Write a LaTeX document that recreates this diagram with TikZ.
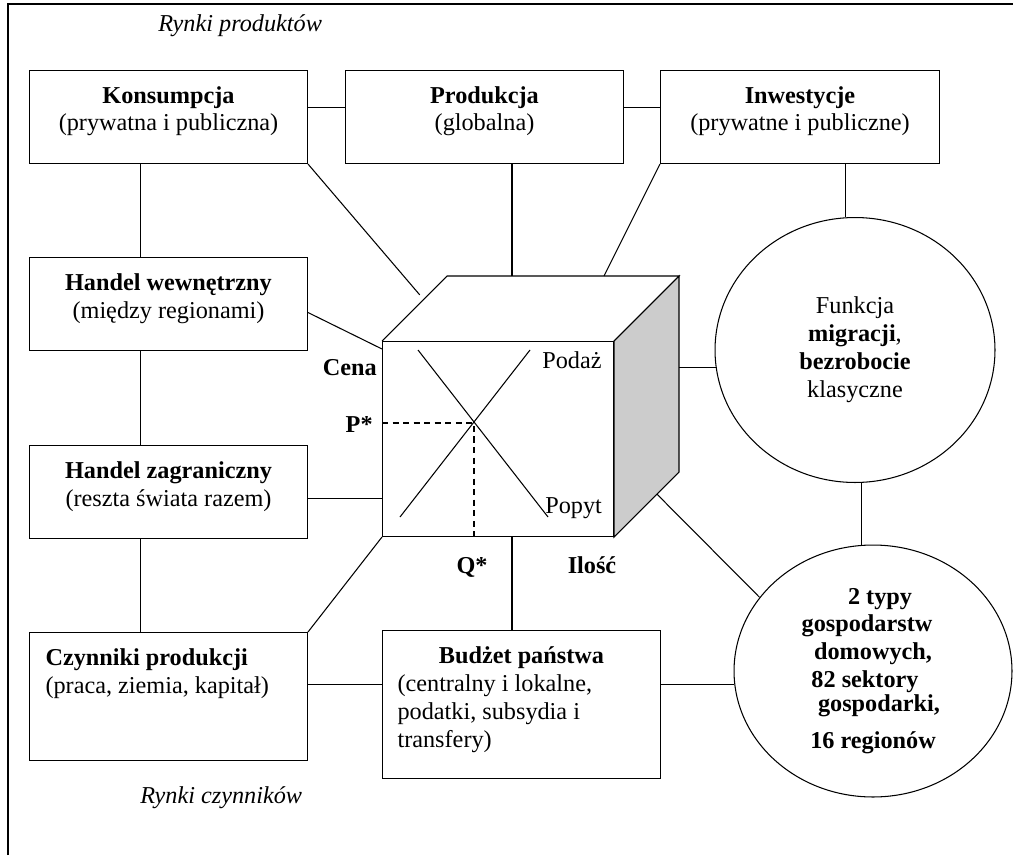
\documentclass[tikz,border=0pt]{standalone}
\usepackage{fontspec}
\setmainfont{Liberation Serif}
\usetikzlibrary{shapes.geometric,calc}

\newcommand{\rozm}{\fontsize{13.8}{15.9}\selectfont}
\newcommand{\tresc}[3]{\begin{minipage}[t][#2][t]{#1}#3\end{minipage}}

\tikzset{
  every node/.style={font=\rozm, inner sep=0pt},
  blok/.style={draw, line width=0.6pt, inner sep=0pt, anchor=north west},
  kolo/.style={draw, ellipse, line width=0.6pt, inner sep=0pt, align=center},
  linia/.style={line width=0.6pt},
  przer/.style={line width=0.9pt, dash pattern=on 3.5pt off 2.5pt},
  opis/.style={font=\rozm\bfseries},
}

\begin{document}
\begin{tikzpicture}[x=0.02cm,y=-0.02cm]
\useasboundingbox (0,0) rectangle (1013,855);
\draw[line width=1.1pt] (8,855) -- (8,4) -- (1013,4);

\node[anchor=base west,font=\rozm\itshape] (rprod) at (158,32) {Rynki produktów};
\node[anchor=base west,font=\rozm\itshape] (rczyn) at (140,803) {Rynki czynników};

% rynki produktow
\node[blok] (kons) at (29,70) {\tresc{5.56cm}{1.86cm}{\centering\rule{0pt}{0.65cm}\textbf{Konsumpcja}\\(prywatna i publiczna)}};
\node[blok] (prod) at (345,70) {\tresc{5.56cm}{1.86cm}{\centering\rule{0pt}{0.65cm}\textbf{Produkcja}\\(globalna)}};
\node[blok] (inw) at (660,70) {\tresc{5.58cm}{1.86cm}{\centering\rule{0pt}{0.65cm}\textbf{Inwestycje}\\(prywatne i publiczne)}};
\node[blok] (hw) at (29,257) {\tresc{5.56cm}{1.86cm}{\centering\rule{0pt}{0.66cm}\textbf{Handel wewnętrzny}\\(między regionami)}};
\node[blok] (hz) at (29,445) {\tresc{5.56cm}{1.86cm}{\centering\rule{0pt}{0.66cm}\textbf{Handel zagraniczny}\\(reszta świata razem)}};

% rynki czynnikow
\node[blok] (czyn) at (29,632) {\tresc{5.56cm}{2.56cm}{\raggedright\leftskip=0.32cm\rule{0pt}{0.66cm}\textbf{Czynniki produkcji}\\(praca, ziemia, kapitał)}};
\node[blok] (bud) at (382,630) {\tresc{5.56cm}{2.96cm}{{\centering\rule{0pt}{0.66cm}\textbf{Budżet państwa}\par}\raggedright\leftskip=0.3cm (centralny i lokalne,\\podatki, subsydia i\\transfery)}};

\node[kolo, minimum width=5.6cm, minimum height=5.3cm] (migr) at (855,350) {Funkcja\\\textbf{migracji},\\\textbf{bezrobocie}\\klasyczne};
\node[kolo, minimum width=5.56cm, minimum height=5.04cm, font=\rozm\bfseries] (hh) at (873,671)
  {\hspace*{0.28cm}2 typy\\\hspace*{-0.24cm}gospodarstw\\domowych,\\\hspace*{-0.32cm}82 sektory\\[-0.08cm]\hspace*{0.24cm}gospodarki,\\[0.18cm]16 regionów};

% szescian z rynkiem
\node[blok, minimum width=4.62cm, minimum height=3.9cm] (rynek) at (382,341) {};
\coordinate (btl) at ([shift={(65,-65)}]rynek.north west);
\coordinate (btr) at ([shift={(65,-65)}]rynek.north east);
\coordinate (bbr) at ([shift={(65,-65)}]rynek.south east);
\draw[linia] (rynek.north west) -- (btl) -- (btr) -- (rynek.north east);
\draw[linia, fill=black!20] (rynek.north east) -- (btr) -- (bbr) -- (rynek.south east) -- cycle;

\coordinate (eq) at (474,423);
\draw[linia] (400,517) -- (530,350);
\draw[linia] (418,350) -- (548,517);
\draw[przer] (eq -| rynek.west) -- (eq) -- (eq |- rynek.south);
\node[anchor=base west] (podaz) at (542,368) {Podaż};
\node[anchor=base west] (popyt) at (545,513) {Popyt};
\node[opis, anchor=base east] (cena) at (377,375) {Cena};
\node[opis, anchor=base east] (pst) at (373,432) {P*};
\node[opis, anchor=base] (qst) at (472,573) {Q*};
\node[opis, anchor=base] (ilosc) at (592,573) {Ilość};

% polaczenia
\draw[linia] ([yshift=0.19cm]kons.east) -- ([yshift=0.19cm]prod.west);
\draw[linia] ([yshift=0.19cm]prod.east) -- ([yshift=0.19cm]inw.west);
\foreach \a/\b in {kons/hw, hw/hz, hz/czyn}
  \draw[linia] ([xshift=-0.56cm]\a.south) -- ([xshift=-0.56cm]\b.north);
\draw[linia, shorten >=0.12cm] (kons.south east) -- ($(rynek.north west)!0.64!(btl)$);
\draw[linia] ([yshift=-0.17cm]hw.east) -- ([yshift=-0.16cm]rynek.north west);
\coordinate (hzk) at ([yshift=-0.13cm]hz.east);
\draw[linia] (hzk) -- (hzk -| rynek.west);
\draw[linia] (czyn.north east) -- (rynek.south west);
\coordinate (tgora) at (512,276);
\coordinate (tdol) at (512,536);
\coordinate (inwk) at (604,276);
\draw[linia] (tgora) -- (tgora |- prod.south);
\draw[linia] (inw.south west) -- (inwk);
\draw[linia] (migr.94) -- (migr.94 |- inw.south);
\draw[linia] (migr.187) -- (migr.187 -| btr);
\draw[linia] (migr.-87) -- (migr.-87 |- hh.north);
\draw[linia] ($(rynek.south east)!0.66!(bbr)$) -- (hh.147);
\draw[linia] (tdol) -- (tdol |- bud.north);
\coordinate (cb) at ([yshift=0.24cm]czyn.east);
\draw[linia] (cb) -- (cb -| bud.west);
\draw[linia] (cb -| bud.east) -- (cb -| hh.west);
\end{tikzpicture}
\end{document}
